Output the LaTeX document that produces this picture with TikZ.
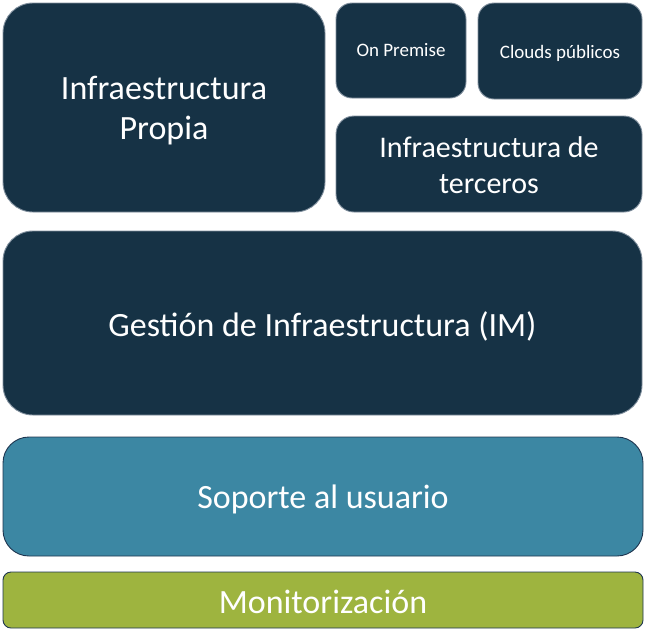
\documentclass[tikz,border=0pt]{standalone}
\usepackage{fontspec}
\setmainfont{Carlito}
\definecolor{darkbox}{HTML}{163245}
\definecolor{darkedge}{HTML}{7F8E9C}
\definecolor{supportfill}{HTML}{3C87A3}
\definecolor{monfill}{HTML}{9EB43F}
\definecolor{lightedge}{HTML}{1E3550}
\tikzset{
  layer/.style={inner sep=0pt, outer sep=0pt, align=center, text=white, line width=0.9pt},
  darklayer/.style={layer, fill=darkbox, draw=darkedge},
  lightlayer/.style={layer, draw=lightedge},
}
\newcommand{\bigfs}{\fontsize{34}{40}\selectfont}
\newcommand{\midfs}{\fontsize{30}{36}\selectfont}
\newcommand{\smallfs}{\fontsize{19}{23}\selectfont}
\begin{document}
\begin{tikzpicture}[x=1pt,y=-1pt]
\useasboundingbox (0,0) rectangle (652,638);
\node[darklayer, rounded corners=30pt, minimum width=322pt, minimum height=209pt, font=\bigfs, text height=65pt, text depth=2pt] (propia) at (164,107.5) {Infraestructura\\Propia};
\node[darklayer, rounded corners=16pt, minimum width=130pt, minimum height=95pt, font=\smallfs, text height=14pt, text depth=3pt] (onprem) at (401,50.5) {On Premise};
\node[darklayer, rounded corners=16pt, minimum width=164pt, minimum height=96pt, font=\smallfs, text height=15pt, text depth=1pt] (clouds) at (560,51) {Clouds públicos};
\node[darklayer, rounded corners=18pt, minimum width=306pt, minimum height=96pt, font=\midfs, text height=60pt, text depth=2pt] (terceros) at (489,164) {Infraestructura de\\terceros};
\node[darklayer, rounded corners=30pt, minimum width=639pt, minimum height=184pt, font=\bigfs, text height=28pt, text depth=2pt] (gestion) at (322.5,323) {Gestión de Infraestructura (IM)};
\node[lightlayer, fill=supportfill, rounded corners=26pt, minimum width=640pt, minimum height=119pt, font=\bigfs, text height=26pt, text depth=3pt] (soporte) at (323,496.5) {Soporte al usuario};
\node[lightlayer, fill=monfill, rounded corners=8pt, minimum width=640pt, minimum height=56pt, font=\bigfs, text height=28pt, text depth=2pt] (monitor) at (323,600) {Monitorización};
\end{tikzpicture}
\end{document}
